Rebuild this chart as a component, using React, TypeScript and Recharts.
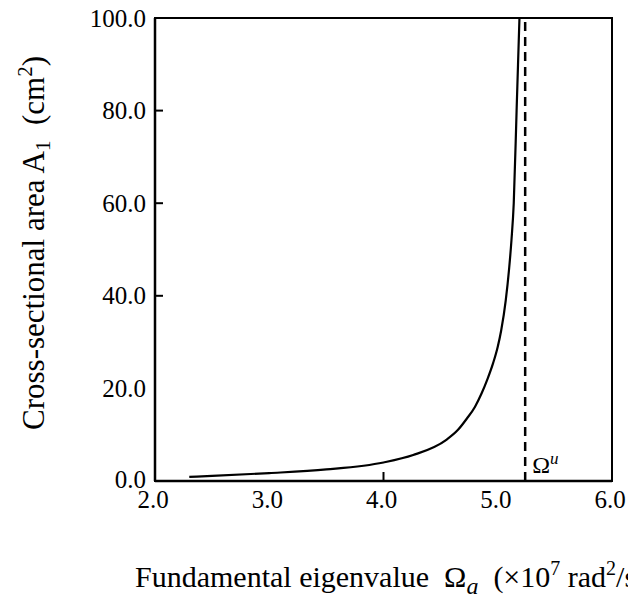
import { LineChart, Line, XAxis, YAxis, ReferenceLine, ReferenceArea } from "recharts";

// Omega_a values (x 10^7 rad^2/s^2) and cross-sectional area A1 (cm^2)
const omegaA = [2.3, 2.5, 3.0, 3.5, 4.0, 4.26, 4.55, 4.65, 4.73, 4.8, 4.86, 4.91, 4.96, 5.0, 5.03, 5.07, 5.1, 5.12, 5.14, 5.165, 5.19];
const areaA1 = [0.9, 1.1, 1.7, 2.5, 4.0, 5.6, 8.9, 11, 13.5, 16, 19, 22, 25.5, 29, 32.5, 39, 46, 52, 60, 80, 100];

const xTicks = [2, 3, 4, 5, 6];
const yTicks = [0, 20, 40, 60, 80, 100];
// tick marks that are visible in the figure
const xMarked = [4];
const yMarked = [40, 60, 80];

const omegaUpper = 5.24;

const data = omegaA.map((x, i) => ({ x, a: areaA1[i] }));

const FONT = "'Liberation Serif', 'Times New Roman', serif";

function XTick(props: any) {
  const { x, y, payload } = props;
  return (
    <g>
      {xMarked.includes(payload.value) && (
        <line x1={x} x2={x} y1={y - 1} y2={y - 9} stroke="#000" strokeWidth={2} />
      )}
      <text x={x - 2} y={y + 18} textAnchor="middle" dominantBaseline="central" fontFamily={FONT} fontSize={25} fill="#000">
        {payload.value.toFixed(1)}
      </text>
    </g>
  );
}

function YTick(props: any) {
  const { x, y, payload } = props;
  const axisX = x + 9;
  return (
    <g>
      {yMarked.includes(payload.value) && (
        <line x1={axisX} x2={axisX + 8} y1={y} y2={y} stroke="#000" strokeWidth={2} />
      )}
      <text x={x} y={y - (payload.value === 0 ? 2 : 0)} textAnchor="end" dominantBaseline="central" fontFamily={FONT} fontSize={25} fill="#000">
        {payload.value.toFixed(1)}
      </text>
    </g>
  );
}

function XTitle() {
  return (
    <text x={135} y={587} fontFamily={FONT} fontSize={30} fill="#000" style={{ whiteSpace: "pre" }}>
      {"Fundamental eigenvalue  Ω"}
      <tspan fontStyle="italic" fontSize={24} dy={7}>a</tspan>
      <tspan dy={-7}>{"  (×10"}</tspan>
      <tspan fontSize={20} dy={-12}>7</tspan>
      <tspan dy={12}> rad</tspan>
      <tspan fontSize={20} dy={-12}>2</tspan>
      <tspan dy={12}>/s</tspan>
      <tspan fontSize={20} dy={-12}>2</tspan>
      <tspan dy={12}>)</tspan>
    </text>
  );
}

function YTitle() {
  const cx = 44;
  const cy = 243;
  return (
    <text x={cx} y={cy} transform={`rotate(-90 ${cx} ${cy})`} textAnchor="middle" fontFamily={FONT} fontSize={31} fill="#000" style={{ whiteSpace: "pre" }}>
      {"Cross-sectional area A"}
      <tspan fontSize={21} dy={6}>1</tspan>
      <tspan dy={-6}>{"  (cm"}</tspan>
      <tspan fontSize={21} dy={-12}>2</tspan>
      <tspan dy={12}>)</tspan>
    </text>
  );
}

function OmegaLabel(props: any) {
  const vb = props.viewBox || {};
  return (
    <text x={vb.x + 7} y={vb.y + vb.height - 8} fontFamily={FONT} fontSize={24} fill="#000">
      Ω
      <tspan fontStyle="italic" fontSize={17} dy={-9}>u</tspan>
    </text>
  );
}

export default function App() {
  return (
    <div style={{ position: "fixed", left: 0, top: 0, background: "#fff" }}>
      <LineChart width={628} height={607} data={data} margin={{ top: 18, right: 16, bottom: 0, left: 0 }}>
        <XAxis
          dataKey="x"
          type="number"
          domain={[2, 6]}
          ticks={xTicks}
          tickLine={false}
          tickSize={0}
          tickMargin={0}
          height={126}
          axisLine={{ stroke: "#000", strokeWidth: 2.5 }}
          tick={<XTick />}
          interval={0}
          label={<XTitle />}
        />
        <YAxis
          type="number"
          domain={[0, 100]}
          ticks={yTicks}
          tickLine={false}
          tickSize={0}
          tickMargin={9}
          width={155}
          axisLine={{ stroke: "#000", strokeWidth: 2.5 }}
          tick={<YTick />}
          interval={0}
          label={<YTitle />}
        />
        <ReferenceArea x1={2} x2={6} y1={0} y2={100} fill="none" stroke="#000" strokeWidth={2} />
        <ReferenceLine
          x={omegaUpper}
          stroke="#000"
          strokeWidth={2.5}
          strokeDasharray="9 6"
          label={<OmegaLabel />}
        />
        <Line
          type="monotone"
          dataKey="a"
          stroke="#000"
          strokeWidth={2.2}
          dot={false}
          isAnimationActive={false}
        />
      </LineChart>
    </div>
  );
}
